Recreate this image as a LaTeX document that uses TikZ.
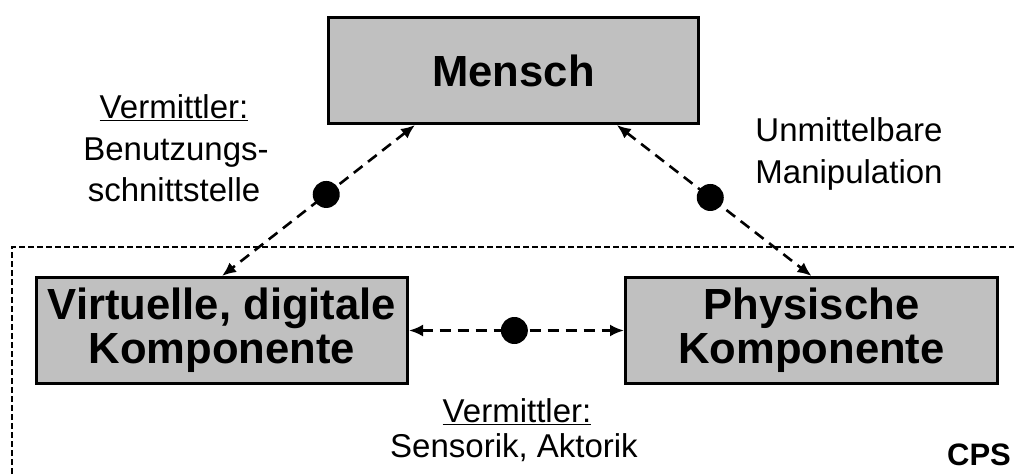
\documentclass[tikz,border=0pt]{standalone}
\usepackage{fontspec}
\setmainfont{Liberation Sans}
\usetikzlibrary{arrows.meta,calc}
\definecolor{boxgray}{RGB}{192,192,192}
\begin{document}
\begin{tikzpicture}[x=1pt,y=-1pt,
  compbox/.style={draw=black,line width=3pt,fill=boxgray,inner sep=0pt,
    align=center,font=\fontsize{43.6}{44}\selectfont\bfseries},
  conn/.style={line width=2.6pt,dash pattern=on 11pt off 7pt,
    {Latex[length=14pt,width=12pt]}-{Latex[length=14pt,width=12pt]}},
  dot/.style={circle,fill=black,inner sep=0pt,minimum size=27pt},
  lbl/.style={anchor=base,inner sep=0pt,font=\fontsize{33}{40}\selectfont},
  frame/.style={line width=2.5pt,dash pattern=on 6pt off 3pt}]
\useasboundingbox (0,0) rectangle (1014,474);

% cyber-physical system boundary
\draw[frame] (12,474) -- (12,247) -- (1014,247);

% components
\node[compbox,minimum width=370pt,minimum height=106pt] (mensch) at (513.5,70.5) {Mensch};
\node[compbox,minimum width=371pt,minimum height=106pt] (virt) at (222,330.5)
  {Virtuelle, digitale\\Komponente};
\node[compbox,minimum width=372pt,minimum height=106pt] (phys) at (811.5,330.5)
  {Physische\\Komponente};

% connection points on the lower edge of the human box
\coordinate (mL) at ($(mensch.south west)!0.236!(mensch.south east)$);
\coordinate (mR) at ($(mensch.south west)!0.777!(mensch.south east)$);

% mediated relations
\draw[conn] (mL) -- node[dot,pos=0.46] (dotL) {} (virt.north);
\draw[conn] (mR) -- node[dot,pos=0.48] (dotR) {} (phys.north);
\draw[conn] (virt.east) -- node[dot,pos=0.49] (dotM) {} (phys.west);

% labels
\node[lbl] (l1) at (174,118) {\underline{Vermittler:}};
\node[lbl] (l2) at (176,160) {Benutzungs-};
\node[lbl] (l3) at (174,201) {schnittstelle};

\node[lbl] (r1) at (849,141) {Unmittelbare};
\node[lbl] (r2) at (849,183) {Manipulation};

\node[lbl] (b1) at (517,422) {\underline{Vermittler:}};
\node[lbl] (b2) at (514,457) {Sensorik, Aktorik};

\node[anchor=base,inner sep=0pt,font=\fontsize{31}{31}\selectfont\bfseries] (cps) at (979,465) {CPS};
\end{tikzpicture}
\end{document}
